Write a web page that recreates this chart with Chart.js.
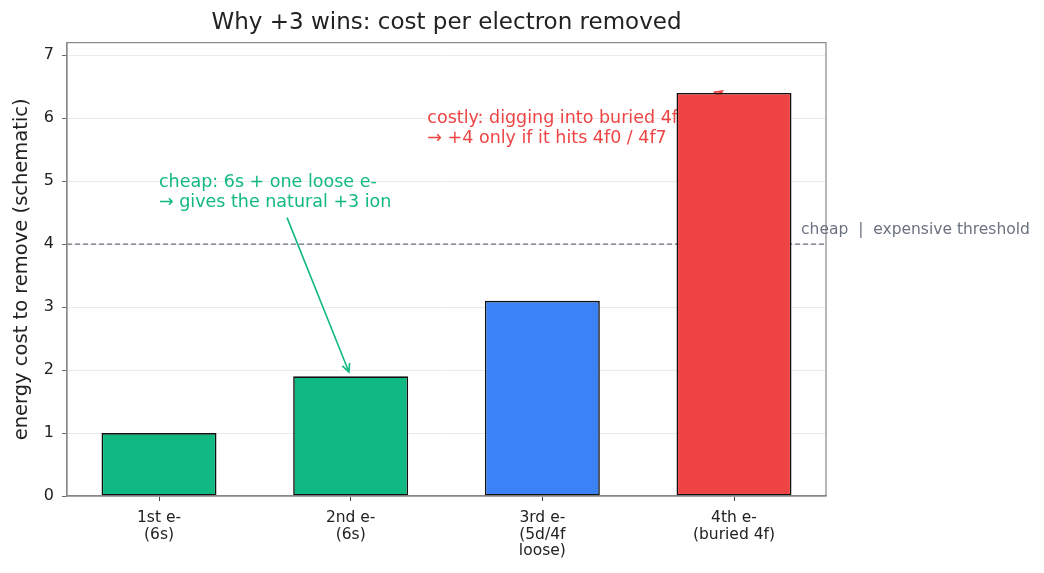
<!DOCTYPE html>
<html>
<head>
<meta charset="utf-8">
<script src="https://cdn.jsdelivr.net/npm/chart.js@4"></script>
<style>
  html, body { margin: 0; padding: 0; background: #fff; }
  #wrap { width: 1044px; height: 573px; }
</style>
</head>
<body>
<div id="wrap"><canvas id="chart"></canvas></div>
<script>
// data
const electrons = [['1st e-', '(6s)'], ['2nd e-', '(6s)'], ['3rd e-', '(5d/4f', 'loose)'], ['4th e-', '(buried 4f)']];
const costs = [1.0, 1.9, 3.1, 6.4];
const barColors = ['#10b981', '#10b981', '#3b82f6', '#ef4444'];
const yTicks = [0, 1, 2, 3, 4, 5, 6, 7];
const threshold = 4;

const FONT = 'DejaVu Sans';
const GREEN = '#10b981', RED = '#ef4444', GREY = '#6b7280';

// Helper: arrow with open head, in pixel coords
function arrow(ctx, x1, y1, x2, y2, color) {
  const a = Math.atan2(y2 - y1, x2 - x1), h = 9;
  ctx.save();
  ctx.strokeStyle = color;
  ctx.lineWidth = 1.6;
  ctx.beginPath();
  ctx.moveTo(x1, y1);
  ctx.lineTo(x2, y2);
  ctx.moveTo(x2 - h * Math.cos(a - 0.45), y2 - h * Math.sin(a - 0.45));
  ctx.lineTo(x2, y2);
  ctx.lineTo(x2 - h * Math.cos(a + 0.45), y2 - h * Math.sin(a + 0.45));
  ctx.stroke();
  ctx.restore();
}

function lines(ctx, textLines, px, py, color, size) {
  ctx.save();
  ctx.fillStyle = color;
  ctx.font = size + 'px "' + FONT + '"';
  ctx.textAlign = 'left';
  ctx.textBaseline = 'middle';
  const lh = 20.5;
  textLines.forEach((t, i) => ctx.fillText(t, px, py + (i - (textLines.length - 1) / 2) * lh));
  ctx.restore();
}

const notes = {
  id: 'notes',
  beforeDatasetsDraw(chart) {
    const { ctx, scales: { x, y }, chartArea } = chart;
    // threshold line
    ctx.save();
    ctx.strokeStyle = GREY;
    ctx.lineWidth = 1.3;
    ctx.setLineDash([5, 3]);
    ctx.beginPath();
    ctx.moveTo(chartArea.left, y.getPixelForValue(threshold));
    ctx.lineTo(chartArea.right, y.getPixelForValue(threshold));
    ctx.stroke();
    ctx.restore();

    lines(ctx, ['cheap: 6s + one loose e-', '\u2192 gives the natural +3 ion'],
      x.getPixelForValue(0), y.getPixelForValue(4.82), GREEN, 17.5);
    arrow(ctx, x.getPixelForValue(0.668), y.getPixelForValue(4.42),
      x.getPixelForValue(0.991), y.getPixelForValue(1.97), GREEN);

    lines(ctx, ['costly: digging into buried 4f', '\u2192 +4 only if it hits 4f0 / 4f7'],
      x.getPixelForValue(1.40), y.getPixelForValue(5.84), RED, 17.5);
    arrow(ctx, x.getPixelForValue(2.78), y.getPixelForValue(6.1),
      x.getPixelForValue(2.94), y.getPixelForValue(6.43), RED);
  },
  afterDraw(chart) {
    const { ctx, scales: { x, y }, chartArea: a } = chart;
    ctx.save();
    ctx.strokeStyle = '#888';
    ctx.lineWidth = 1.2;
    ctx.strokeRect(a.left, a.top, a.right - a.left, a.bottom - a.top);
    ctx.restore();
    lines(ctx, ['cheap  |  expensive threshold'],
      x.getPixelForValue(3.35), y.getPixelForValue(4.23), GREY, 15.5);
  }
};

new Chart(document.getElementById('chart'), {
  type: 'bar',
  data: {
    datasets: [{
      data: costs.map((c, i) => ({ x: i, y: c })),
      backgroundColor: barColors,
      borderColor: '#111',
      borderWidth: 1.6,
      borderSkipped: false,
      barPercentage: 0.6,
      categoryPercentage: 1
    }]
  },
  options: {
    responsive: true,
    maintainAspectRatio: false,
    animation: false,
    layout: { padding: { left: 0, right: 218, top: 0, bottom: 0 } },
    plugins: {
      legend: { display: false },
      tooltip: { enabled: false },
      title: {
        display: true,
        fullSize: false,
        text: 'Why +3 wins: cost per electron removed',
        color: '#222',
        font: { family: FONT, size: 23, weight: 'normal' },
        padding: { top: 9, bottom: 6 }
      }
    },
    scales: {
      x: {
        type: 'linear',
        offset: false,
        min: -0.48,
        max: 3.48,
        afterBuildTicks: axis => { axis.ticks = electrons.map((_, i) => ({ value: i })); },
        afterFit: s => { s.height = 77; },
        grid: { display: true, offset: false, drawOnChartArea: false, tickLength: 5, tickColor: '#444' },
        border: { color: '#888', width: 1.2 },
        ticks: {
          color: '#222',
          font: { family: FONT, size: 15.5, lineHeight: 1.07 },
          maxRotation: 0,
          autoSkip: false,
          padding: 9,
          callback: v => electrons[v]
        }
      },
      y: {
        min: 0,
        max: 7.2,
        afterBuildTicks: axis => { axis.ticks = yTicks.map(v => ({ value: v })); },
        afterFit: s => { s.width = 67; },
        grid: { color: '#e6e6e6', lineWidth: 0.8, tickLength: 5, tickColor: '#444' },
        border: { color: '#888', width: 1.2 },
        ticks: {
          color: '#222',
          padding: 8,
          font: { family: FONT, size: 16 }
        },
        title: {
          display: true,
          text: 'energy cost to remove (schematic)',
          color: '#222',
          font: { family: FONT, size: 19.5 },
          padding: { top: 10, bottom: 6 }
        }
      }
    }
  },
  plugins: [notes]
});
</script>
</body>
</html>
